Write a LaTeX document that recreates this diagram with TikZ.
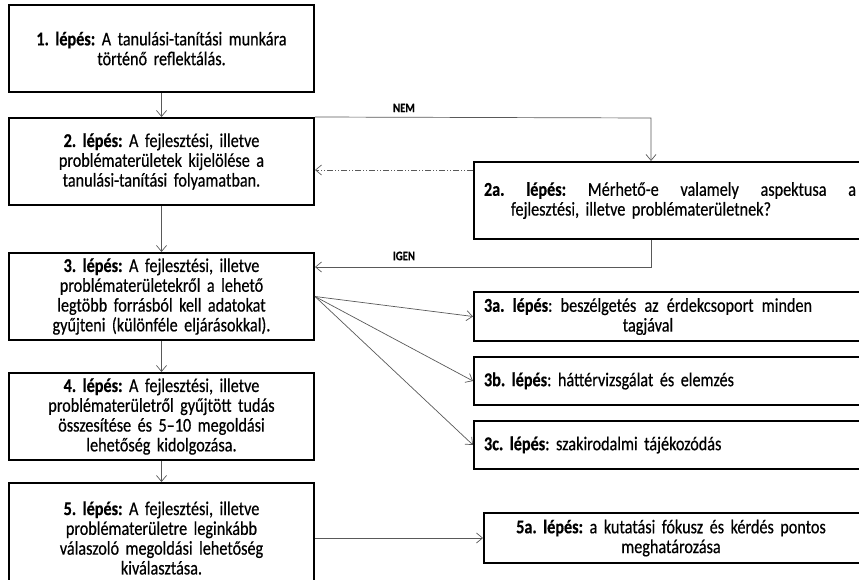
\documentclass[tikz,border=0pt]{standalone}
\usepackage{fontspec}
\setmainfont{Carlito}[FakeStretch=0.83,FakeBold=0.5]
\frenchspacing
\usetikzlibrary{arrows.meta,calc}

\begin{document}
\begin{tikzpicture}[x=1pt,y=-1pt,
lepes/.style={rectangle,draw,line width=2pt,text width=285pt,
minimum height=87pt,inner xsep=10pt,inner ysep=0pt,align=center,
font=\fontsize{19.5}{19.8}\selectfont},
oldal/.style={rectangle,draw,line width=2pt,text width=380pt,
inner xsep=10pt,inner ysep=0pt,align=left,anchor=west,
font=\fontsize{19.5}{19.8}\selectfont},
nyil/.style={draw=black!65,line width=0.7pt,-{Straight Barb[length=6pt,width=10pt]}},
felirat/.style={font=\fontsize{13}{14}\selectfont\bfseries}]
\useasboundingbox (0,0) rectangle (859,580);
% bal oszlop
\node[lepes](b1) at (161.5,48.5) {\textbf{1. lépés:} A tanulási-tanítási munkára\\
történő reflektálás.};
\node[lepes](b2) at (161.5,161.5) {\textbf{2. lépés:} A fejlesztési, illetve\\
problématerületek kijelölése a\\
tanulási-tanítási folyamatban.};
\node[lepes](b3) at (161.5,296.5) {\textbf{3. lépés:} A fejlesztési, illetve\\
problématerületekről a lehető\\
legtöbb forrásból kell adatokat\\
gyűjteni (különféle eljárásokkal).};
\node[lepes](b4) at (161.5,416.5) {\textbf{4. lépés:} A fejlesztési, illetve\\
problématerületről gyűjtött tudás\\
összesítése és 5–10 megoldási\\
lehetőség kidolgozása.};
\node[lepes,minimum height=110pt](b5) at (161.5,538) {\textbf{5. lépés:} A fejlesztési, illetve\\
problématerületre leginkább\\
válaszoló megoldási lehetőség\\
kiválasztása.};
% jobb oszlop
\node[oldal,minimum height=77pt](b2a) at (473,200.5)
{\makebox[372pt][s]{\spaceskip=0.2em plus 1fil\textbf{2a. lépés:} Mérhető-e valamely aspektusa a}\\
\makebox[314pt]{fejlesztési, illetve problématerületnek?}};
\node[oldal,minimum height=49pt](b3a) at (473,316.5)
{\makebox[328pt][s]{\spaceskip=0.2em plus 1fil\textbf{3a. lépés}: beszélgetés az érdekcsoport minden}\\
\makebox[328pt]{tagjával}};
\node[oldal,minimum height=48pt](b3b) at (473,381) {\textbf{3b. lépés}: háttérvizsgálat és elemzés};
\node[oldal,minimum height=48pt](b3c) at (473,445) {\textbf{3c. lépés}: szakirodalmi tájékozódás};
\node[oldal,minimum height=50pt,inner xsep=13pt](b5a) at (483,538)
{\makebox[348pt]{\textbf{5a. lépés:} a kutatási fókusz és kérdés pontos}\\
\makebox[348pt]{meghatározása}};
\coordinate (nem) at (651,118);
\coordinate (igen) at (651,267);
\coordinate (vissza) at (473,170);
\node[felirat](nemfel) at (404,108) {NEM};
\node[felirat](igenfel) at (404,256) {IGEN};
\draw[nyil] (b1)--(b2);
\draw[nyil] (b2)--(b3);
\draw[nyil] (b3)--(b4);
\draw[nyil] (b4)--(b5);
\draw[nyil] (b2.north east)--(nem)--(nem |- b2a.north);
\draw[nyil,dash pattern=on 6pt off 2pt on 1pt off 2pt on 1pt off 2pt] (vissza)--(vissza -| b2.east);
\draw[nyil] (b2a.south -| igen)--(igen)--(igen -| b3.east);
\draw[nyil] (b3.east)--(b3a.west);
\draw[nyil] (b3.east)--(b3b.west);
\draw[nyil] (b3.east)--(b3c.west);
\draw[nyil] (b5.east)--(b5a.west);
\end{tikzpicture}
\end{document}
